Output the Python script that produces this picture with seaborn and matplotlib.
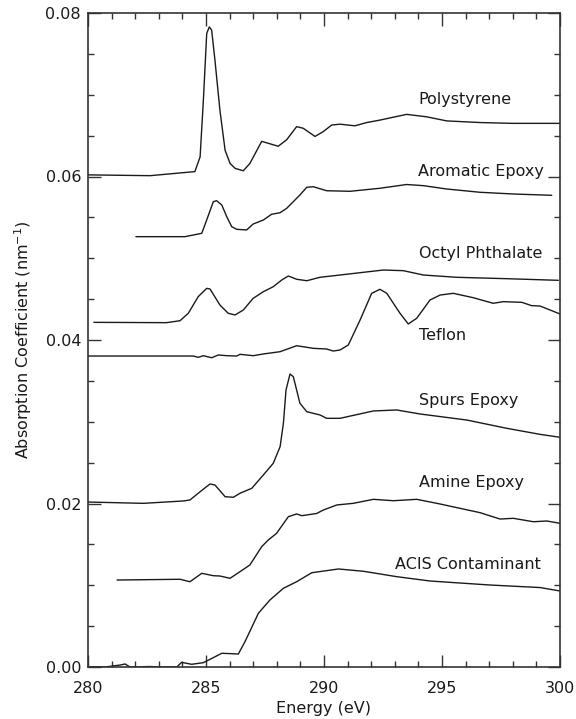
import numpy as np
import pandas as pd
import matplotlib
matplotlib.use("Agg")
import matplotlib.pyplot as plt
from matplotlib.ticker import MultipleLocator, FormatStrFormatter
import seaborn as sns

# ---------------- data ----------------
poly_x = [280.00, 282.63, 284.53, 284.75, 284.89, 285.03, 285.14, 285.24, 285.38, 285.59,
          285.81, 286.02, 286.23, 286.58, 286.86, 287.36, 287.71, 288.06, 288.42, 288.84,
          289.12, 289.62, 289.97, 290.33, 290.68, 291.31, 291.81, 292.37, 293.50, 294.35,
          295.20, 296.61, 298.01, 300.00]
poly_y = [0.0602, 0.0601, 0.0606, 0.0624, 0.0694, 0.0775, 0.0783, 0.0779, 0.0742, 0.0681,
          0.0632, 0.0616, 0.0610, 0.0607, 0.0616, 0.0643, 0.0640, 0.0637, 0.0645, 0.0661,
          0.0659, 0.0649, 0.0655, 0.0663, 0.0664, 0.0662, 0.0666, 0.0669, 0.0676, 0.0673,
          0.0668, 0.0666, 0.0665, 0.0665]

arom_x = [282.03, 284.11, 284.82, 285.03, 285.31, 285.45, 285.67, 285.88, 286.09, 286.30,
          286.72, 287.00, 287.43, 287.78, 288.14, 288.42, 288.70, 288.98, 289.27, 289.55,
          290.11, 291.10, 292.37, 293.50, 294.21, 295.20, 296.61, 298.02, 299.65]
arom_y = [0.05264, 0.05264, 0.05305, 0.05468, 0.05692, 0.05704, 0.05651, 0.05508, 0.05386, 0.05354,
          0.05346, 0.05419, 0.05468, 0.05538, 0.05557, 0.05611, 0.05692, 0.05774, 0.05868, 0.05875,
          0.05826, 0.05819, 0.05856, 0.05902, 0.05888, 0.05847, 0.05807, 0.05786, 0.05770]

octyl_x = [280.25, 283.33, 283.90, 284.25, 284.67, 285.03, 285.17, 285.59, 285.94, 286.23,
           286.58, 287.00, 287.43, 287.85, 288.21, 288.49, 288.84, 289.27, 289.83, 290.68,
           292.51, 293.36, 294.21, 295.62, 297.74, 299.93]
octyl_y = [0.04216, 0.04212, 0.04236, 0.04327, 0.04530, 0.04632, 0.04624, 0.04428, 0.04327, 0.04306,
           0.04367, 0.04510, 0.04591, 0.04652, 0.04734, 0.04783, 0.04743, 0.04725, 0.04767, 0.04795,
           0.04856, 0.04848, 0.04795, 0.04767, 0.04750, 0.04730]

teflon_x = [280.00, 284.46, 284.67, 284.89, 285.24, 285.52, 285.88, 286.30, 286.44, 287.00,
            287.43, 288.14, 288.84, 289.55, 290.11, 290.39, 290.68, 291.03, 291.53, 292.02,
            292.37, 292.66, 293.22, 293.57, 293.93, 294.49, 294.92, 295.48, 296.33, 297.17,
            297.60, 298.38, 298.80, 299.15, 299.58, 300.00]
teflon_y = [0.03804, 0.03804, 0.03788, 0.03808, 0.03783, 0.03817, 0.03808, 0.03804, 0.03825, 0.03808,
            0.03829, 0.03857, 0.03930, 0.03898, 0.03890, 0.03865, 0.03878, 0.03939, 0.04245, 0.04571,
            0.04620, 0.04571, 0.04327, 0.04196, 0.04266, 0.04489, 0.04550, 0.04571, 0.04517, 0.04449,
            0.04469, 0.04461, 0.04420, 0.04416, 0.04367, 0.04318]

spurs_x = [280.00, 282.34, 284.04, 284.32, 284.75, 285.17, 285.38, 285.81, 286.16, 286.44,
           286.94, 287.43, 287.85, 288.14, 288.28, 288.39, 288.56, 288.70, 288.98, 289.27,
           289.83, 290.11, 290.68, 292.09, 293.08, 294.07, 296.05, 297.74, 299.15, 300.00]
spurs_y = [0.02018, 0.02002, 0.02031, 0.02043, 0.02144, 0.02239, 0.02226, 0.02083, 0.02076, 0.02125,
           0.02186, 0.02349, 0.02492, 0.02695, 0.02981, 0.03388, 0.03584, 0.03551, 0.03226, 0.03123,
           0.03083, 0.03042, 0.03042, 0.03132, 0.03144, 0.03095, 0.03021, 0.02920, 0.02846, 0.02810]

amine_x = [281.23, 283.90, 284.32, 284.82, 285.31, 285.59, 286.02, 286.44, 286.86, 287.36,
           287.64, 287.99, 288.49, 288.84, 289.06, 289.69, 289.97, 290.54, 291.24, 292.09,
           292.94, 293.93, 294.92, 295.76, 296.61, 297.46, 298.02, 298.87, 299.44, 300.00]
amine_y = [0.01064, 0.01073, 0.01043, 0.01146, 0.01117, 0.01113, 0.01085, 0.01166, 0.01248, 0.01472,
           0.01554, 0.01635, 0.01839, 0.01872, 0.01851, 0.01878, 0.01920, 0.01982, 0.02002, 0.02051,
           0.02034, 0.02051, 0.01994, 0.01941, 0.01888, 0.01810, 0.01819, 0.01777, 0.01786, 0.01758]

acis_x = [280.00, 280.51, 280.72, 281.36, 281.57, 281.78, 282.63, 283.05, 283.76, 283.97,
          284.39, 284.89, 285.17, 285.67, 286.37, 286.65, 287.22, 287.71, 288.28, 288.84,
          289.48, 290.61, 291.67, 293.08, 294.49, 297.03, 299.15, 300.00]
acis_y = [0.00000, 0.00004, 0.00000, 0.00024, 0.00037, 0.00000, 0.00006, 0.00000, 0.00000, 0.00057,
          0.00033, 0.00053, 0.00094, 0.00168, 0.00159, 0.00309, 0.00657, 0.00820, 0.00963, 0.01043,
          0.01153, 0.01199, 0.01171, 0.01105, 0.01052, 0.01003, 0.00972, 0.00930]

materials = ["Polystyrene", "Aromatic Epoxy", "Octyl Phthalate", "Teflon",
             "Spurs Epoxy", "Amine Epoxy", "ACIS Contaminant"]
series_x = [poly_x, arom_x, octyl_x, teflon_x, spurs_x, amine_x, acis_x]
series_y = [poly_y, arom_y, octyl_y, teflon_y, spurs_y, amine_y, acis_y]

label_x = [293.99, 293.98, 294.03, 294.03, 294.03, 294.03, 293.00]
label_y = [0.0694, 0.0606, 0.0506, 0.0406, 0.03254, 0.02254, 0.01248]

x_ticks = [280, 285, 290, 295, 300]
y_ticks = [0.00, 0.02, 0.04, 0.06, 0.08]

# ---------------- build table ----------------
frames = []
for name, xs, ys in zip(materials, series_x, series_y):
    frames.append(pd.DataFrame({"Energy": xs, "Coef": ys, "Material": name}))
df = pd.concat(frames, ignore_index=True)

# ---------------- plot ----------------
sns.set_style("ticks")
plt.rcParams["font.family"] = ["DejaVu Sans"]
ink = "#1a1a1a"

fig = plt.figure(figsize=(5.76, 7.19), dpi=100)
ax = fig.add_axes([88 / 576, 1 - 667 / 719, (560 - 88) / 576, (667 - 13) / 719])

sns.lineplot(data=df, x="Energy", y="Coef", hue="Material",
             palette={m: ink for m in materials}, estimator=None, sort=False,
             linewidth=1.0, legend=False, ax=ax)

for name, lx, ly in zip(materials, label_x, label_y):
    ax.text(lx, ly, name, fontsize=11.5, color=ink, ha="left", va="center")

ax.set_xlim(280, 300)
ax.set_ylim(0, 0.08)
ax.set_xticks(x_ticks)
ax.set_yticks(y_ticks)
ax.xaxis.set_minor_locator(MultipleLocator(1))
ax.yaxis.set_minor_locator(MultipleLocator(0.005))
ax.yaxis.set_major_formatter(FormatStrFormatter("%.2f"))
ax.xaxis.set_major_formatter(FormatStrFormatter("%d"))

for s in ax.spines.values():
    s.set_visible(True)
    s.set_linewidth(1.2)
    s.set_color("#333333")

ax.tick_params(which="both", direction="in", top=True, right=True,
               color="#333333", width=1.0, labelsize=11.5, labelcolor=ink)
ax.tick_params(which="major", length=9)
ax.tick_params(which="minor", length=4.5)
ax.tick_params(axis="x", which="major", pad=10)
ax.tick_params(axis="y", which="major", pad=5)

ax.set_xlabel("Energy (eV)", fontsize=11.5, color=ink, labelpad=4)
ax.set_ylabel(r"Absorption Coefficient (nm$^{-1}$)", fontsize=11.5, color=ink, labelpad=8)

fig.savefig("out.png", dpi=100)
